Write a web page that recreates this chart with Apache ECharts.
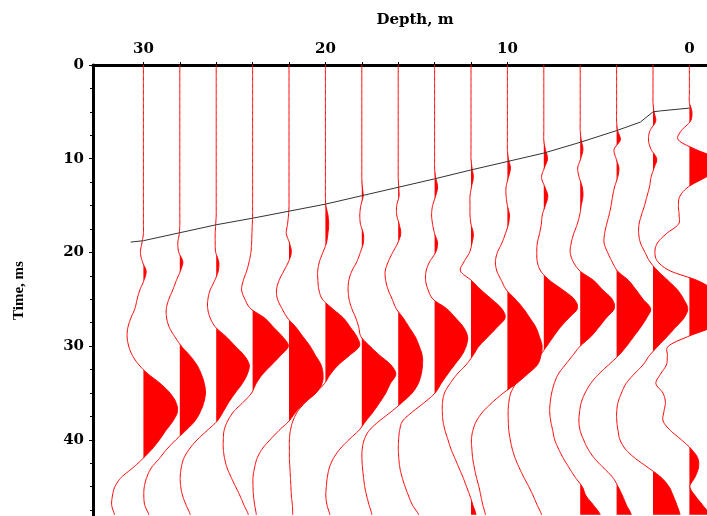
<!DOCTYPE html>
<html><head><meta charset="utf-8">
<script src="https://cdn.jsdelivr.net/npm/echarts@6/dist/echarts.min.js"></script>
<style>html,body{margin:0;padding:0;background:#fff}#chart{width:707px;height:516px}</style>
</head><body><div id="chart"></div>
<script>
// Sample times (ms)
const TIME_MS = [0,1,2,3,4,5,6,7,8,9,10,11,12,13,14,15,16,17,18,19,20,21,22,23,24,25,26,27,28,29,30,31,32,33,34,35,36,37,38,39,40,41,42,43,44,45,46,47,48];
// Receiver depths (m)
const TRACE_DEPTHS = [30,28,26,24,22,20,18,16,14,12,10,8,6,4,2,0];
// Trace amplitudes (one value per sample time)
const AMP_30 = [0,0,0,0,0,0,0,0,0,0,0,0,0,0,0,0,0,0,0,-1.5,-3,-1,2.7,0.5,-3.5,-6.3,-8.5,-12.5,-15.5,-16.3,-14.7,-11,-4.5,5,17,26.5,32.5,34,29.5,22.5,16,8.5,-0.5,-10.7,-22,-28.5,-31,-31.7,-29];
const AMP_28 = [0,0,0,0,0,0,0,0,0,0,0,0,0,0,0,0,0,0,-0.5,-2,-1,3,0.5,-3.5,-7,-11,-13.5,-13.2,-10.5,-5,1.5,10,17,21.5,24.5,25.7,24,20.5,15,6,-4,-13,-20.5,-28.5,-33,-35.5,-36,-35,-31];
const AMP_26 = [0,0,0,0,0,0,0,0,0,0,0,0,0,0,0,0,0,-0.5,-1,-1,-0.5,2.5,2,-1.5,-6,-8.3,-8.5,-6,-0.5,10,19,28,33,31,26,19,12.5,7,1,-9,-19,-27,-32.5,-35,-36,-35.5,-33.5,-30,-26];
const AMP_24 = [0,0,0,0,0,0,0,0,0,0,0,0,0,0,0,0,0,-0.3,-0.7,-1,-1.7,-3.5,-6,-9.3,-11,-7.7,-2,12,21,30,35.7,28,19,10,3.5,-1,-9.5,-19,-25,-28.5,-29.3,-29.3,-28,-25.5,-21.5,-17,-12.5,-8.5,-4.3];
const AMP_22 = [0,0,0,0,0,0,0,0,0,0,0,0,0,0,0,0,-0.5,-1.5,-2.7,0.5,2.3,-0.5,-5.3,-10,-12.5,-11.5,-7,-1.5,7,14,21,26.5,32,34,33,27,16,7,0,-10,-19,-27,-32,-34.5,-36,-36,-35.5,-34.3,-32.7];
const AMP_20 = [0,0,0,0,0,0,0,0,0,0,0,0,0,0,0,0.5,2.5,3.3,2.5,1,-2.5,-6,-7.7,-7.5,-6.5,-3,7,18,25,31.5,34,24,13,5,-1,-10,-20,-28,-32.5,-35,-36,-36,-36,-35.5,-35,-34.5,-34,-33,-32.7];
const AMP_18 = [0,0,0,0,0,0,0,0,0,0,0,0,0,0.5,1.3,-1,-2,-1.3,1.5,1.5,-1.5,-5,-10,-13,-13.7,-12.7,-10,-6,-3,-0.8,8,18,29,34,28.5,24,18,11.5,4,-3,-13,-22,-28.5,-32.5,-34.5,-35.5,-36,-34.7,-32];
const AMP_16 = [0,0,0,0,0,0,0,0,0,0,0,0,0,0.5,0.8,-1.5,-1.5,1,2.5,-0.5,-5.5,-10,-13,-12.5,-10,-6,-2,5,11,17,21,24,24.3,23,20,14,4,-7,-19,-29,-34,-36,-36.3,-35.7,-34.7,-33.5,-31.5,-29,-26.3];
const AMP_14 = [0,0,0,0,0,0,0,0,0,0,0,0,1,3,1,-2,-3,-2,0,3,1,-5,-8.5,-9,-6.5,-1.5,12,21,29,33,31.5,27,20,13,6.5,0.5,-10,-22,-32,-35,-36,-36.3,-35.8,-34.7,-32.5,-29.5,-26,-22,-16];
const AMP_12 = [0,0,0,0,0,0,0,0,0,0,0,1,2.3,0.5,-1,-1,-1,0,2.3,1,-1.5,-7,-10.5,0.5,10,20.7,30.7,34,26,17,8,2,-5,-14,-21,-26.5,-28.5,-28.7,-28,-26,-23,-20,-16,-12,-8,-4.5,-1,2,5];
const AMP_10 = [0,0,0,0,0,0,0,0,0,0,1,3,1,-1.3,-1.3,0,2,1,-2,-5.5,-10,-12,-10.5,-6,-1,8,16,22.5,28.5,32,34.7,33.5,30,20,9,-4,-15,-24.5,-31,-34.5,-36,-35.5,-34.7,-33,-31,-28.5,-26.5,-24.5,-22];
const AMP_8 = [0,0,0,0,0,0,0,0,0,1.5,3.7,0.5,-2.3,1,4,1.5,-1.5,-2.5,-4.3,-6.5,-7,-6.5,-3,6,19,30.5,33.5,25,16.5,9.5,3,-4,-13,-21,-28,-33,-35,-35.7,-35.5,-35,-33.5,-31.5,-28.5,-24.5,-20,-15,-10.5,-6.5,-2.3];
const AMP_6 = [0,0,0,0,0,0,0,0,1,2.7,0.5,-2.5,-1,2,2.7,1,-0.5,-3,-6.5,-9,-10,-7,0,13.5,22.5,32,34,26,18.5,10.5,0,-7.5,-15,-22,-26,-28.5,-30,-30.5,-29.5,-27.5,-25.5,-21.5,-16.7,-11,-5,2,6,13.5,20];
const AMP_4 = [0,0,0,0,0,0,0,1,3.7,-2.5,-0.5,2.3,1,-2,-4,-5.5,-7.5,-10,-12,-12.5,-9,-4.5,1,12,19.5,26.5,34,30,24,17,10,2,-8,-18,-26,-31.5,-35.3,-37,-37.7,-36.5,-33,-28.5,-22,-13,-4,1.5,6,10,14.7];
const AMP_2 = [0,0,0,0,0,1,2.7,-3,-4.5,-2,3.7,1,-2,-3.5,-6,-8.5,-11.5,-14,-14.3,-12.5,-8,-3,5,15,24.5,30.7,34.7,31,22.5,14,5,-3.5,-10,-19,-27,-31.5,-35,-36.3,-36.2,-35,-33,-27.5,-17.5,-4.5,8,16,20.3,24,27];
const AMP_0 = [0,0,0,0,0,2.5,1,-8,-11,6,28,32,16,-1,-9.5,-11,-10.3,-11,-23,-32,-34.5,-31.5,-18.7,8,24,33,36,33,22,-2,-21,-22,-23,-29,-33.5,-26.5,-24,-25.5,-26.3,-19,-8,2,8.5,9,5.5,0.5,6,13.5,20];
const TRACE_AMPS = [AMP_30,AMP_28,AMP_26,AMP_24,AMP_22,AMP_20,AMP_18,AMP_16,AMP_14,AMP_12,AMP_10,AMP_8,AMP_6,AMP_4,AMP_2,AMP_0];
// First-break picks
const PICK_DEPTH = [30.7,30,28,26,24,22,20,18,16,14,12,10,8,6,4,2.7,2,1.6,0];
const PICK_TIME  = [18.9,18.75,17.9,17.05,16.35,15.6,14.85,13.95,13.05,12.15,11.2,10.3,9.4,8.25,7.0,6.1,5.0,4.9,4.6];
// Axis ticks / labels
const X_LABELS = [0,10,20,30];
const X_TICKS = [10,12,14,16,18,20,22,24,26,28,30];
// Amplitude display gain: trace spacing (2 m) = 36.4 amplitude units
const GAIN = 2 / 36.4;

function spline(vals, sub) {
  const out = [];
  const n = vals.length;
  for (let i = 0; i < n - 1; i++) {
    const p0 = vals[Math.max(i - 1, 0)], p1 = vals[i], p2 = vals[i + 1], p3 = vals[Math.min(i + 2, n - 1)];
    const t0 = TIME_MS[i], t1 = TIME_MS[i + 1];
    for (let k = 0; k < sub; k++) {
      const s = k / sub;
      const a = 0.5 * ((2 * p1) + (-p0 + p2) * s + (2 * p0 - 5 * p1 + 4 * p2 - p3) * s * s + (-p0 + 3 * p1 - 3 * p2 + p3) * s * s * s);
      out.push([t0 + (t1 - t0) * s, a]);
    }
  }
  out.push([TIME_MS[n - 1], vals[n - 1]]);
  return out;
}

const chart = echarts.init(document.getElementById('chart'), null, {renderer: 'canvas'});
const labelFont = {fontFamily: 'DejaVu Serif', fontWeight: 'bold', fontSize: 15, color: '#000'};

chart.setOption({
  animation: false,
  backgroundColor: '#fff',
  grid: {left: 93, right: 0, top: 65, bottom: 0, containLabel: false},
  xAxis: {
    type: 'value', position: 'top', inverse: true, min: -0.967, max: 32.77,
    name: 'Depth, m', nameLocation: 'middle', nameGap: 37,
    nameTextStyle: {fontFamily: 'DejaVu Serif', fontWeight: 'bold', fontSize: 15, color: '#000', padding: [0, 0, 0, 30]},
    axisLine: {show: true, onZero: false, lineStyle: {color: '#000', width: 3}},
    axisTick: {show: true, customValues: X_TICKS, length: 3, lineStyle: {color: '#000', width: 1}},
    axisLabel: Object.assign({customValues: X_LABELS, margin: 8}, labelFont),
    splitLine: {show: false}
  },
  yAxis: {
    type: 'value', position: 'left', inverse: true, min: 0, max: 48.13, interval: 10,
    name: 'Time, ms', nameLocation: 'middle', nameGap: 66, nameRotate: 90,
    nameTextStyle: {fontFamily: 'Liberation Serif', fontWeight: 'bold', fontSize: 15, color: '#000'},
    axisLine: {show: true, onZero: false, lineStyle: {color: '#000', width: 3}},
    axisTick: {show: true, length: 4, lineStyle: {color: '#000', width: 1}},
    minorTick: {show: true, splitNumber: 4, length: 3, lineStyle: {color: '#000', width: 1}},
    axisLabel: Object.assign({margin: 9, showMaxLabel: false}, labelFont),
    splitLine: {show: false}
  },
  series: [
    {
      type: 'custom',
      coordinateSystem: 'cartesian2d',
      clip: true,
      z: 2,
      data: TRACE_DEPTHS.map(d => [d, 0]),
      renderItem: function (params, api) {
        const idx = params.dataIndex;
        const base = TRACE_DEPTHS[idx];
        const pts = spline(TRACE_AMPS[idx], 8);
        const line = pts.map(p => api.coord([base - p[1] * GAIN, p[0]]));
        const fill = [api.coord([base, pts[0][0]])];
        for (let j = 0; j < pts.length; j++) {
          const t = pts[j][0], a = pts[j][1];
          if (j > 0) {
            const tp = pts[j - 1][0], ap = pts[j - 1][1];
            if ((ap > 0) !== (a > 0) && ap !== a) {
              const tz = tp + (t - tp) * (ap / (ap - a));
              fill.push(api.coord([base, tz]));
            }
          }
          fill.push(api.coord([base - Math.max(a, 0) * GAIN, t]));
        }
        fill.push(api.coord([base, pts[pts.length - 1][0]]));
        return {
          type: 'group',
          children: [
            {type: 'polygon', shape: {points: fill}, style: {fill: '#ff0000', stroke: null}},
            {type: 'polyline', shape: {points: line}, style: {stroke: '#ff0000', lineWidth: 1, fill: null}}
          ]
        };
      }
    },
    {
      type: 'line',
      z: 5,
      symbol: 'none',
      data: PICK_DEPTH.map((d, i) => [d, PICK_TIME[i]]),
      lineStyle: {color: '#333', width: 1}
    }
  ]
});
</script>
</body></html>
